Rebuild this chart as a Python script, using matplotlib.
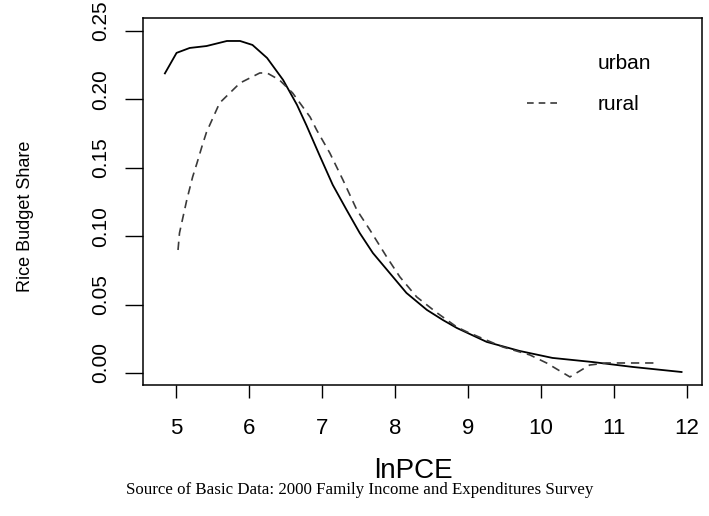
import matplotlib
matplotlib.use("Agg")
import matplotlib.pyplot as plt
from matplotlib.lines import Line2D
from matplotlib.transforms import ScaledTranslation

# values
urban_x = [4.85, 5.01, 5.19, 5.42, 5.70, 5.88, 6.05, 6.25, 6.47, 6.66, 6.79, 6.97,
           7.15, 7.34, 7.52, 7.70, 7.93, 8.16, 8.44, 8.66, 8.85, 9.26, 9.71, 10.16,
           10.71, 11.26, 11.93]
urban_y = [0.219, 0.234, 0.2376, 0.239, 0.2427, 0.2427, 0.2398, 0.2303, 0.2142, 0.196,
           0.181, 0.159, 0.1375, 0.1192, 0.1023, 0.0877, 0.0731, 0.0585, 0.0461, 0.0387,
           0.0329, 0.0227, 0.0161, 0.011, 0.008, 0.0044, 0.0007]

rural_x = [5.03, 5.05, 5.08, 5.15, 5.23, 5.29, 5.36, 5.42, 5.60, 5.88, 6.15, 6.25, 6.42,
           6.60, 6.84, 6.93, 7.11, 7.29, 7.48, 7.66, 7.89, 8.07, 8.30, 8.58, 8.85, 8.99,
           9.48, 9.85, 10.08, 10.40, 10.67, 10.90, 11.59]
rural_y = [0.0899, 0.1023, 0.1096, 0.1265, 0.1433, 0.1535, 0.166, 0.176, 0.1974, 0.212,
           0.2193, 0.2193, 0.2142, 0.2047, 0.1871, 0.1776, 0.1608, 0.1411, 0.1192, 0.1045,
           0.0848, 0.0702, 0.0556, 0.0439, 0.0336, 0.03, 0.019, 0.0132, 0.0073, -0.0029,
           0.0058, 0.0073, 0.0073]

x_ticks = [5, 6, 7, 8, 9, 10, 11, 12]
y_ticks = [0.00, 0.05, 0.10, 0.15, 0.20, 0.25]
y_tick_labels = ["0.00", "0.05", "0.10", "0.15", "0.20", "0.25"]
series_names = ["urban", "rural"]

plt.rcParams["font.family"] = ["Liberation Sans", "DejaVu Sans"]

fig = plt.figure(figsize=(7.09, 5.16), dpi=100)
W, H = 709, 516
ax = fig.add_axes([143 / W, 1 - 385 / H, (702 - 143) / W, (385 - 18) / H])

ax.plot(urban_x, urban_y, color="black", lw=1.3)
ax.plot(rural_x, rural_y, color="#3a3a3a", lw=1.2, ls=(0, (5, 3.5)))

ax.set_xlim(4.55, 12.21)
ax.set_ylim(-0.0088, 0.2595)
ax.set_xticks(x_ticks)
ax.set_yticks(y_ticks)
ax.set_yticklabels(y_tick_labels, rotation=90, va="center")
ax.tick_params(axis="x", length=9.5, width=1, pad=14, labelsize=16)
ax.tick_params(axis="y", length=13, width=1, pad=11, labelsize=15)
for s in ax.spines.values():
    s.set_linewidth(1.1)

# y tick labels sit a bit above their ticks in the reference
shift = ScaledTranslation(0, 10 / 100, fig.dpi_scale_trans)
for lab in ax.get_yticklabels():
    lab.set_transform(lab.get_transform() + shift)

ax.set_ylabel("Rice Budget Share", fontsize=13)
ax.yaxis.set_label_coords(-0.195, 0.46)
ax.set_xlabel("lnPCE", fontsize=20)
ax.xaxis.set_label_coords(0.483, -0.2)

handles = [Line2D([], [], color="none"),
           Line2D([], [], color="#3a3a3a", lw=1.2, ls=(0, (4, 3)))]
leg = ax.legend(handles, series_names, loc="upper left", frameon=False,
                bbox_to_anchor=(517 / W, 1 - 44 / H), bbox_transform=fig.transFigure,
                fontsize=15, borderpad=0, handlelength=1.6, handletextpad=1.75,
                labelspacing=1.04)

fig.text(360 / W, 1 - 490 / H,
         "Source of Basic Data: 2000 Family Income and Expenditures Survey",
         family="Liberation Serif", fontsize=12.2, ha="center", va="center")

fig.savefig("out.png", dpi=100)
